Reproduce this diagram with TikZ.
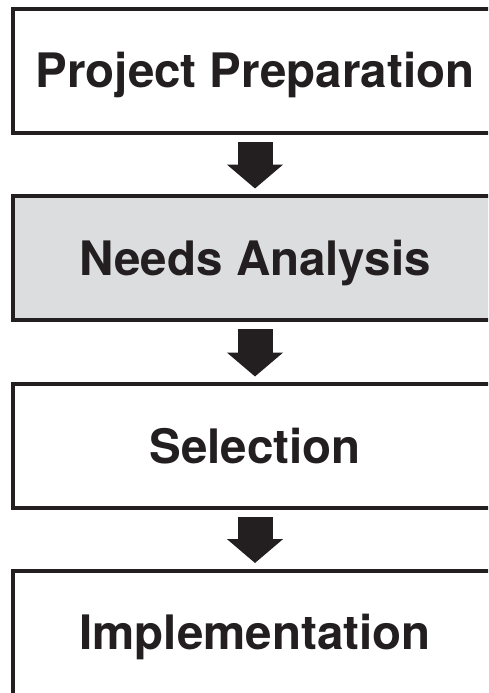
\documentclass[tikz,border=0pt]{standalone}
\usepackage{fontspec}
\setmainfont{TeX Gyre Heros}
\usetikzlibrary{arrows.meta, positioning}

\definecolor{inkblack}{HTML}{231F20}
\definecolor{stagegray}{HTML}{DCDDDF}

\begin{document}
\begin{tikzpicture}[
		x=1pt, y=-1pt,
		stage/.style={draw=inkblack, line width=4pt, minimum width=484pt, minimum height=124pt,
			inner sep=0pt, text=inkblack, font=\fontsize{47.5}{57}\selectfont\bfseries,
			text height=34pt, text depth=0pt},
		flow/.style={draw=inkblack, line width=35pt, -{Triangle[width=55pt, length=24pt]},
			shorten <=7pt, shorten >=5.5pt}
		]
		
		% === FRAME ===
		\useasboundingbox (0,0) rectangle (488,693);
		\clip (0,0) rectangle (488,693);
		\fill[white] (0,0) rectangle (488,693);
		
		% === STAGES ===
		\node [stage] (prep) at (255,71) {Project Preparation};
		\node [stage, fill=stagegray] (needs) at (255,258) {Needs Analysis};
		\node [stage] (select) at (255,446) {Selection};
		\node [stage] (implement) at (255,632.5) {Implementation};
		
		% === BLOCK ARROWS ===
		\draw[flow] (prep) -- (needs);
		\draw[flow] (needs) -- (select);
		\draw[flow] (select) -- (implement);
		
	\end{tikzpicture}
\end{document}
